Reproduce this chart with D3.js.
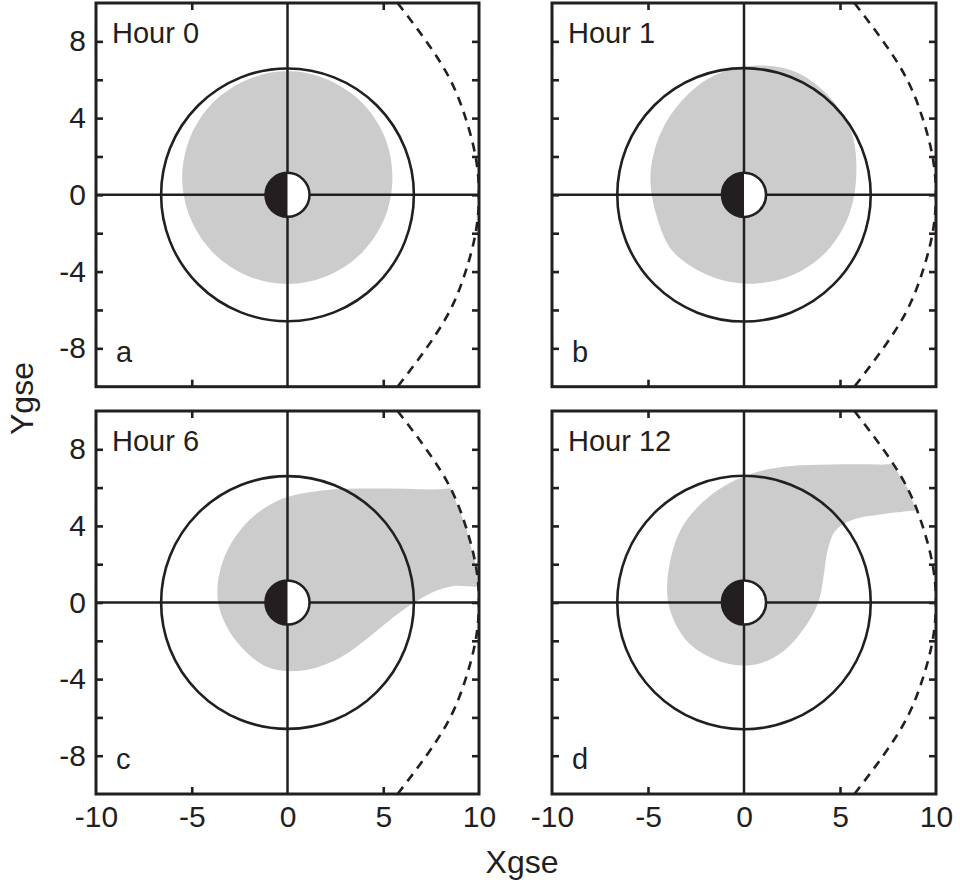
<!DOCTYPE html>
<html>
<head>
<meta charset="utf-8">
<script src="https://cdn.jsdelivr.net/npm/d3@7"></script>
<style>
  body { margin: 0; background: #fff; }
  text { font-family: "Liberation Sans", Arial, sans-serif; fill: #231f20; }
</style>
</head>
<body>
<script>
  // panel text
  var panelTitles = ["Hour 0", "Hour 1", "Hour 6", "Hour 12"];
  var panelLetters = ["a", "b", "c", "d"];

  // axis ticks
  var xTickLabels = [-10, -5, 0, 5, 10];
  var xMinorTicks = [-5, 5];
  var yTicks = [-8, -6, -4, -2, 0, 2, 4, 6, 8];
  var yTickLabels = [-8, -4, 0, 4, 8];

  // geosynchronous orbit radius and earth radius (Re)
  var orbitRadius = 6.6;
  var earthRadius = 1.15;

  // magnetopause (dashed)
  var magnetopause = [[5.75, 10], [7.25, 8], [8.5, 6], [9.3, 4], [9.82, 2], [10, 0],
                      [9.82, -2], [9.3, -4], [8.5, -6], [7.25, -8], [5.75, -10]];

  // plasma region outlines (grey); clipped at the magnetopause
  var blobA = [[5.48, 0.9], [5.08, 3.0], [3.9, 4.8], [2.1, 6.0], [0, 6.45], [-2.1, 6.0],
               [-3.9, 4.8], [-5.08, 3.0], [-5.5, 0.9], [-5.08, -1.2], [-3.9, -3.0],
               [-2.1, -4.22], [0, -4.65], [2.1, -4.22], [3.9, -3.0], [5.08, -1.2]];
  var blobB = [[5.85, 1.05], [5.6, 3.25], [4.55, 5.0], [2.7, 6.4], [0.49, 6.73], [-1.6, 6.2],
               [-3.2, 4.95], [-4.35, 3.2], [-4.87, 1.05], [-4.55, -1.1], [-3.7, -2.95],
               [-1.7, -4.25], [0.49, -4.63], [2.6, -4.15], [4.3, -2.95], [5.45, -1.1]];
  var blobC = [[-3.66, 0.77], [-3.2, 2.6], [-2.0, 4.3], [-0.3, 5.4], [1.8, 5.85], [4.5, 5.95],
               [7.5, 5.9], [10.5, 5.8], [10.6, 3.0], [10.5, 1.0], [8.6, 0.85], [7.5, 0.5],
               [6.4, -0.15], [5.3, -0.95], [4.2, -1.85], [2.74, -2.88], [0.8, -3.55],
               [-1.09, -3.35], [-2.65, -2.05], [-3.5, -0.5]];
  var blobD = [[-4.0, 1.0], [-3.3, 3.8], [-1.6, 5.7], [0.3, 6.7], [2.2, 7.1], [4.5, 7.2],
               [7.0, 7.2], [9.5, 7.1], [10.5, 6.0], [10.5, 4.85], [9.0, 4.8], [7.27, 4.62],
               [5.6, 4.3], [4.75, 3.74], [4.35, 2.7], [4.15, 1.4], [3.9, 0.1], [3.3, -1.1],
               [2.1, -2.5], [0.66, -3.22], [-1.08, -3.13], [-2.82, -2.17], [-3.78, -0.61]];
  var blobs = [blobA, blobB, blobC, blobD];

  var width = 960, height = 883;
  var colX = [[96, 479], [552, 936]];
  var rowY = [[386.7, 3], [794, 411]];
  var ink = "#231f20", grey = "#cccccc";

  var svg = d3.select("body").append("svg")
    .attr("width", width)
    .attr("height", height);

  var defs = svg.append("defs");

  panelTitles.forEach(function(title, i) {
    var col = i % 2, row = Math.floor(i / 2);
    var x = d3.scaleLinear().domain([-10, 10]).range(colX[col]);
    var y = d3.scaleLinear().domain([-10, 10]).range(rowY[row]);
    var x0 = x.range()[0], x1 = x.range()[1], y0 = y.range()[1], y1 = y.range()[0];
    var line = d3.line().x(function(d) { return x(d[0]); }).y(function(d) { return y(d[1]); });

    defs.append("clipPath").attr("id", "clip" + i)
      .append("rect").attr("x", x0).attr("y", y0).attr("width", x1 - x0).attr("height", y1 - y0);

    // inside of the magnetopause
    var mpArea = magnetopause.concat([[-12, -12], [-12, 12]]);
    defs.append("clipPath").attr("id", "mp" + i)
      .append("path").attr("d", line.curve(d3.curveLinearClosed)(mpArea));

    var g = svg.append("g");
    var plot = g.append("g").attr("clip-path", "url(#clip" + i + ")");

    // grey region
    plot.append("g").attr("clip-path", "url(#mp" + i + ")")
      .append("path")
      .datum(blobs[i])
      .attr("d", line.curve(d3.curveCatmullRomClosed.alpha(0.5)))
      .attr("fill", grey);

    // crosshair
    plot.append("line").attr("x1", x0).attr("x2", x1).attr("y1", y(0)).attr("y2", y(0))
      .attr("stroke", ink).attr("stroke-width", 2.5);
    plot.append("line").attr("x1", x(0)).attr("x2", x(0)).attr("y1", y0).attr("y2", y1)
      .attr("stroke", ink).attr("stroke-width", 2.5);

    // geosynchronous orbit
    plot.append("circle").attr("cx", x(0)).attr("cy", y(0))
      .attr("r", x(orbitRadius) - x(0))
      .attr("fill", "none").attr("stroke", ink).attr("stroke-width", 2.6);

    // magnetopause
    plot.append("path")
      .datum(magnetopause)
      .attr("d", line.curve(d3.curveNatural))
      .attr("fill", "none").attr("stroke", ink).attr("stroke-width", 2.6)
      .attr("stroke-dasharray", "9,7");

    // earth, night side black
    var er = x(earthRadius) - x(0);
    plot.append("circle").attr("cx", x(0)).attr("cy", y(0)).attr("r", er).attr("fill", "#fff");
    plot.append("path")
      .attr("d", d3.arc()({innerRadius: 0, outerRadius: er, startAngle: Math.PI, endAngle: 2 * Math.PI}))
      .attr("transform", "translate(" + x(0) + "," + y(0) + ")")
      .attr("fill", ink);
    plot.append("circle").attr("cx", x(0)).attr("cy", y(0)).attr("r", er)
      .attr("fill", "none").attr("stroke", ink).attr("stroke-width", 2.5);

    // axes with inward ticks
    var fmtY = function(d) { return yTickLabels.indexOf(d) >= 0 ? d : ""; };
    var left = g.append("g").attr("transform", "translate(" + x0 + ",0)")
      .call(d3.axisLeft(y).tickValues(yTicks).tickSize(-7).tickPadding(10)
        .tickFormat(col === 0 ? fmtY : function() { return ""; }));
    var right = g.append("g").attr("transform", "translate(" + x1 + ",0)")
      .call(d3.axisRight(y).tickValues(yTicks).tickSize(-7).tickFormat(""));
    var top = g.append("g").attr("transform", "translate(0," + y0 + ")")
      .call(d3.axisTop(x).tickValues(xMinorTicks).tickSize(-7).tickFormat(""));
    var bottom = g.append("g").attr("transform", "translate(0," + y1 + ")")
      .call(d3.axisBottom(x).tickValues(row === 1 ? xTickLabels : xMinorTicks).tickSize(-7)
        .tickFormat(row === 1 ? function(d) { return d; } : function() { return ""; }));

    [left, right, top, bottom].forEach(function(a) {
      a.select(".domain").remove();
      a.selectAll("line").attr("stroke", ink).attr("stroke-width", 2.6);
      a.selectAll("text").attr("font-size", 30).attr("fill", ink)
        .attr("font-family", "'Liberation Sans', Arial, sans-serif");
    });
    bottom.selectAll("text").attr("y", 33).attr("dy", 0);
    bottom.selectAll(".tick").filter(function(d) { return d === 0 || Math.abs(d) === 10; })
      .select("line").remove();

    // frame
    g.append("rect").attr("x", x0).attr("y", y0).attr("width", x1 - x0).attr("height", y1 - y0)
      .attr("fill", "none").attr("stroke", ink).attr("stroke-width", 3);

    // titles
    g.append("text").attr("x", x0 + 16).attr("y", y0 + 40).attr("font-size", 29).text(title);
    g.append("text").attr("x", x0 + 20).attr("y", y1 - 25).attr("font-size", 29).text(panelLetters[i]);
  });

  // axis titles
  svg.append("text")
    .attr("x", (colX[0][0] + colX[1][1]) / 2 + 6).attr("y", 873)
    .attr("text-anchor", "middle").attr("font-size", 32).text("Xgse");
  svg.append("text")
    .attr("transform", "translate(33," + (rowY[0][1] + rowY[1][0]) / 2 + ") rotate(-90)")
    .attr("text-anchor", "middle").attr("font-size", 32).text("Ygse");
</script>
</body>
</html>
